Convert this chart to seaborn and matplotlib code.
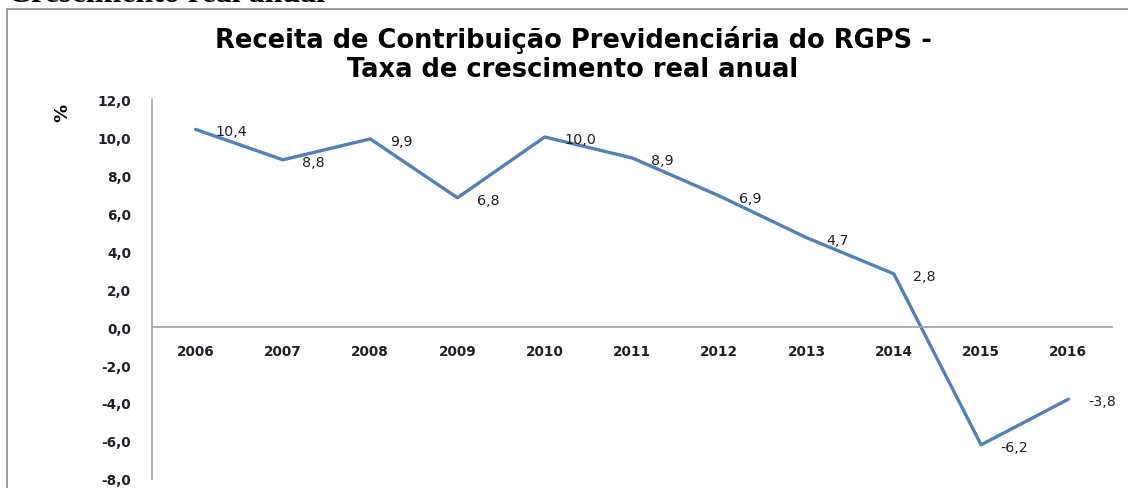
import matplotlib
matplotlib.use("Agg")
import matplotlib.pyplot as plt
import matplotlib.patches as patches
import numpy as np
import pandas as pd
import seaborn as sns

# data
years = ["2006", "2007", "2008", "2009", "2010", "2011", "2012", "2013", "2014", "2015", "2016"]
growth = [10.4, 8.8, 9.9, 6.8, 10.0, 8.9, 6.9, 4.7, 2.8, -6.2, -3.8]
y_ticks = [-8, -6, -4, -2, 0, 2, 4, 6, 8, 10, 12]

LINE_COLOR = "#4F81BD"
AXIS_COLOR = "#A6A6A6"
TEXT_COLOR = "#1F1F2A"
FONT = ["DejaVu Sans"]

sns.set_theme(style="white")
plt.rcParams["font.family"] = FONT

df = pd.DataFrame({"ano": years, "taxa": growth})

fig = plt.figure(figsize=(11.28, 4.89), dpi=100)
ax = fig.add_axes([152 / 1128, 1 - 480 / 489, (1112 - 152) / 1128, 380 / 489])

sns.pointplot(
    data=df, x="ano", y="taxa", order=years, color=LINE_COLOR,
    markers="", linewidth=2.4, errorbar=None, ax=ax,
)

ax.set_xlim(-0.5, len(years) - 0.5)
ax.set_ylim(-8, 12)
ax.set_yticks(y_ticks)
ax.set_yticklabels([f"{v:.1f}".replace(".", ",") for v in y_ticks])
ax.set_xlabel("")
ax.set_ylabel("")

for side in ["top", "right"]:
    ax.spines[side].set_visible(False)
ax.spines["left"].set_color(AXIS_COLOR)
ax.spines["left"].set_linewidth(1.3)
ax.spines["bottom"].set_position(("data", 0))
ax.spines["bottom"].set_color(AXIS_COLOR)
ax.spines["bottom"].set_linewidth(1.3)

ax.tick_params(axis="y", length=0, pad=15, labelsize=9.8, labelcolor=TEXT_COLOR)
ax.tick_params(axis="x", length=0, pad=12, labelsize=9.8, labelcolor=TEXT_COLOR)
for lbl in ax.get_xticklabels() + ax.get_yticklabels():
    lbl.set_fontweight("bold")

# data labels to the right of each point
for i, v in enumerate(growth):
    ax.annotate(
        f"{v:.1f}".replace(".", ","), (i, v), xytext=(14, -1.5),
        textcoords="offset points", ha="left", va="center",
        fontsize=10.3, color=TEXT_COLOR, annotation_clip=False,
    )

fig.text(62 / 1128, 1 - 113 / 489, "%", rotation=90, ha="center", va="center",
         fontsize=13, fontweight="bold", color="black")

fig.text(573 / 1128, 1 - 40 / 489, "Receita de Contribuição Previdenciária do RGPS -",
         ha="center", va="center", fontsize=18.5, fontweight="bold", color="black")
fig.text(573 / 1128, 1 - 70 / 489, "Taxa de crescimento real anual",
         ha="center", va="center", fontsize=18.5, fontweight="bold", color="black")

# cropped heading above the chart box
fig.text(8 / 1128, 1 + 6 / 489, "Crescimento real anual", ha="left", va="center",
         fontsize=23, fontweight="bold", family="Liberation Serif", color="black")

# chart border
fig.patches.append(patches.Rectangle(
    (7 / 1128, -0.05), 1.1, 1 - 10 / 489 + 0.05, transform=fig.transFigure,
    fill=False, edgecolor="#8C8C8C", linewidth=1.2, clip_on=False,
))

fig.savefig("out.png", dpi=100)
